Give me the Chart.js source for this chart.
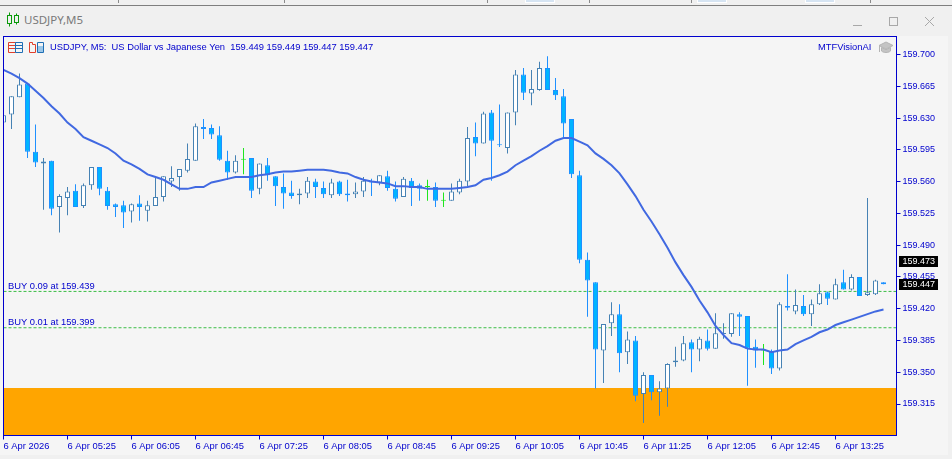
<!DOCTYPE html>
<html>
<head>
<meta charset="utf-8">
<title>USDJPY,M5</title>
<script src="https://cdn.jsdelivr.net/npm/chart.js@4/dist/chart.umd.min.js"></script>
<style>
  html, body { margin: 0; padding: 0; background: #f0f0f0; overflow: hidden; }
  #win { position: relative; width: 952px; height: 459px; font-family: "Noto Sans", sans-serif; }
  #topline { position: absolute; left: 0; top: 5px; width: 952px; height: 1px; background: #7f7f7f; }
  .tabmark { position: absolute; top: 0; width: 1px; height: 3px; background: #8a8a8a; }
  .tabbox { position: absolute; top: 0; width: 28px; height: 2px; background: #d6e4f2; border: 1px solid #fff; border-top: 0; }
  #caption { position: absolute; left: 24px; top: 11px; font-size: 11.5px; line-height: 18px; color: #7a7a7a; }
  #panel { position: absolute; left: 0; top: 36px; width: 948px; height: 419px; background: #f5f5f5; }
  canvas { position: absolute; left: 0; top: 0; }
  svg { position: absolute; }
</style>
</head>
<body>
<div id="win">
  <div id="topline"></div>
  <div class="tabmark" style="left:118px"></div>
  <div class="tabmark" style="left:284px"></div>
  <div class="tabmark" style="left:487px"></div>
  <div class="tabmark" style="left:589px"></div>
  <div class="tabmark" style="left:691px"></div>
  <div class="tabmark" style="left:870px"></div>
  <div class="tabbox" style="left:525px"></div>
  <div class="tabbox" style="left:697px"></div>
  <div class="tabbox" style="left:805px"></div>

  <svg style="left:6px;top:12px" width="14" height="15" fill="none" stroke="#0a9a0a">
    <path d="M3.5 0.5v14M10.5 1.5v11"/>
    <rect x="1.5" y="3.5" width="4" height="8" fill="#f0f0f0"/>
    <rect x="8.5" y="3.5" width="4" height="7" fill="#f0f0f0"/>
  </svg>
  <div id="caption">USDJPY,M5</div>
  <svg style="left:850px;top:14px" width="90" height="14" fill="none" stroke="#a8a8a8">
    <path d="M3 11.5h9"/>
    <rect x="39.5" y="3.5" width="8" height="8"/>
    <path d="M75 3l9 9M84 3l-9 9"/>
  </svg>

  <div id="panel"></div>
  <canvas id="chart" width="952" height="459"></canvas>

  <svg style="left:8px;top:42px" width="37" height="12" fill="none">
    <path d="M0.5 0.5h7v10h-7zM0.5 3.5h7M0.5 6.5h7" stroke="#e0402c"/>
    <path d="M7.5 0.5h7v10h-7zM7.5 3.5h7M7.5 6.5h7" stroke="#1f6fb5"/>
    <path d="M21.5 0.5h3v2h3v8h-6z" stroke="#e0402c"/>
    <path d="M29.5 0.5h6v10h-6z" stroke="#1f6fb5"/>
    <path d="M30 4h5v6h-5z" fill="#9cc7e8"/>
  </svg>
  <svg style="left:878px;top:41px" width="16" height="14" fill="#c4c4c4" stroke="#b4b4b4">
    <path d="M8 1l7 3.5-7 3.5-7-3.5z"/>
    <path d="M3.5 6.5v3.5c2 2 7 2 9 0v-3.5l-4.500 2.200z"/>
    <path d="M1.500 5v6" fill="none"/>
  </svg>
</div>

<script>
// USDJPY M5 candles, one every five minutes, oldest first
const opens = [
  159.625,159.634,159.653,159.668,159.593,159.580,159.583,159.532,159.542,159.550,
  159.533,159.556,159.576,159.550,159.535,159.534,159.527,159.536,159.528,159.533,
  159.543,159.560,159.565,159.572,159.583,159.620,159.619,159.611,159.583,159.570,
  159.584,159.586,159.552,159.578,159.566,159.554,159.548,159.545,159.547,159.560,
  159.553,159.545,159.560,159.547,159.546,159.549,159.561,159.559,159.566,159.552,
  159.543,159.561,159.556,159.554,159.554,159.539,159.539,159.548,159.560,159.609,
  159.602,159.636,159.601,159.597,159.636,159.678,159.657,159.661,159.685,159.661,
  159.654,159.629,159.567,159.474,159.449,159.374,159.404,159.414,159.372,159.385,
  159.326,159.347,159.328,159.332,159.361,159.363,159.383,159.375,159.385,159.376,
  159.392,159.392,159.414,159.412,159.378,159.374,159.373,159.354,159.423,159.417,
  159.423,159.414,159.425,159.438,159.430,159.449,159.441,159.455,159.435,159.436,
  159.449
];
const highs = [
  159.636,159.654,159.679,159.668,159.623,159.586,159.583,159.546,159.554,159.557,
  159.558,159.576,159.576,159.554,159.536,159.539,159.536,159.545,159.539,159.566,
  159.566,159.577,159.574,159.602,159.624,159.629,159.623,159.621,159.594,159.589,
  159.597,159.586,159.580,159.586,159.566,159.569,159.561,159.552,159.565,159.563,
  159.560,159.563,159.561,159.562,159.559,159.565,159.563,159.567,159.572,159.560,
  159.565,159.564,159.558,159.562,159.559,159.548,159.558,159.563,159.620,159.625,
  159.637,159.639,159.645,159.636,159.683,159.685,159.683,159.692,159.698,159.674,
  159.662,159.629,159.572,159.482,159.449,159.403,159.427,159.425,159.395,159.390,
  159.350,159.347,159.340,159.360,159.378,159.390,159.386,159.389,159.397,159.415,
  159.404,159.415,159.416,159.412,159.386,159.381,159.375,159.427,159.458,159.441,
  159.435,159.430,159.447,159.439,159.453,159.463,159.458,159.455,159.542,159.452,
  159.449
];
const lows = [
  159.619,159.618,159.653,159.586,159.576,159.529,159.523,159.504,159.523,159.532,
  159.531,159.551,159.545,159.529,159.521,159.509,159.515,159.517,159.516,159.533,
  159.538,159.554,159.550,159.570,159.583,159.607,159.607,159.583,159.562,159.569,
  159.568,159.542,159.546,159.561,159.533,159.530,159.541,159.535,159.542,159.542,
  159.542,159.542,159.544,159.538,159.542,159.543,159.544,159.556,159.550,159.538,
  159.543,159.533,159.539,159.539,159.532,159.532,159.539,159.546,159.555,159.588,
  159.602,159.561,159.598,159.591,159.622,159.650,159.644,159.660,159.661,159.650,
  159.608,159.564,159.470,159.411,159.332,159.338,159.390,159.350,159.359,159.318,
  159.294,159.319,159.302,159.312,159.356,159.362,159.350,159.362,159.374,159.376,
  159.387,159.389,159.390,159.335,159.355,159.358,159.348,159.352,159.418,159.414,
  159.412,159.401,159.424,159.424,159.430,159.441,159.440,159.434,159.434,159.435,
  159.447
];
const closes = [
  159.633,159.654,159.667,159.593,159.581,159.582,159.530,159.544,159.549,159.532,
  159.556,159.576,159.552,159.533,159.532,159.526,159.535,159.532,159.534,159.543,
  159.566,159.564,159.574,159.585,159.621,159.618,159.612,159.584,159.570,159.583,
  159.584,159.550,159.580,159.567,159.555,159.547,159.544,159.547,159.561,159.554,
  159.546,159.559,159.546,159.545,159.549,159.561,159.559,159.567,159.553,159.541,
  159.563,159.553,159.552,159.554,159.539,159.539,159.549,159.561,159.608,159.602,
  159.635,159.605,159.600,159.636,159.678,159.658,159.662,159.685,159.661,159.655,
  159.624,159.568,159.474,159.451,159.375,159.403,159.414,159.371,159.386,159.324,
  159.347,159.328,159.332,159.359,159.363,159.382,159.375,159.387,159.376,159.393,
  159.393,159.415,159.411,159.376,159.374,159.374,159.354,159.425,159.421,159.424,
  159.414,159.425,159.437,159.431,159.447,159.441,159.455,159.434,159.438,159.451,
  159.447
];
// moving average drawn over the candles
const movingAverage = [
  159.683,159.679,159.674,159.668,159.660,159.652,159.643,159.635,159.625,159.618,
  159.609,159.605,159.601,159.597,159.591,159.583,159.579,159.574,159.568,159.565,
  159.562,159.557,159.552,159.552,159.554,159.554,159.559,159.561,159.563,159.565,
  159.565,159.565,159.567,159.568,159.570,159.571,159.571,159.572,159.573,159.573,
  159.573,159.572,159.570,159.569,159.565,159.562,159.560,159.559,159.558,159.555,
  159.555,159.554,159.554,159.552,159.552,159.552,159.552,159.553,159.554,159.556,
  159.562,159.564,159.567,159.571,159.578,159.583,159.588,159.594,159.599,159.605,
  159.608,159.608,159.604,159.600,159.591,159.585,159.578,159.569,159.557,159.544,
  159.529,159.516,159.502,159.487,159.471,159.457,159.444,159.429,159.416,159.401,
  159.391,159.382,159.380,159.376,159.375,159.375,159.372,159.374,159.375,159.381,
  159.385,159.389,159.394,159.397,159.402,159.405,159.408,159.411,159.414,159.417,
  159.419
];
const timeLabels = ["6 Apr 2026","6 Apr 05:25","6 Apr 06:05","6 Apr 06:45","6 Apr 07:25","6 Apr 08:05","6 Apr 08:45",
  "6 Apr 09:25","6 Apr 10:05","6 Apr 10:45","6 Apr 11:25","6 Apr 12:05","6 Apr 12:45","6 Apr 13:25"];
const priceTicks = [159.700,159.665,159.630,159.595,159.560,159.525,159.490,159.455,159.420,159.385,159.350,159.315];
const buyPrices = [159.439,159.399];
const buyLabels = ["BUY 0.09 at 159.439","BUY 0.01 at 159.399"];
const priceTags = [159.473,159.447];
const zoneTop = 159.3325;

const BLUE = "#0000cd";
const FONT = "'Liberation Sans', sans-serif";
const xMax = 111.625;
const lastBar = opens.length - 1;

let wickColors = [], bodyFills = [], bodyEdges = [];
for (let i = 0; i <= lastBar; i++) {
  if (closes[i] > opens[i]) {
    wickColors.push("#4682b4"); bodyFills.push("#ffffff"); bodyEdges.push("#4682b4");
  } else if (closes[i] < opens[i]) {
    wickColors.push("#1e90ff"); bodyFills.push("#00b4ff"); bodyEdges.push("#1e90ff");
  } else {
    wickColors.push("#1ee61e"); bodyFills.push("#1ee61e"); bodyEdges.push("#1ee61e");
  }
}

const wicks = highs.map((h, i) => ({x: i, y: [lows[i], h]}));
const bodies = opens.map((o, i) => ({x: i, y: [Math.min(o, closes[i]), Math.max(o, closes[i])]}));
const maPoints = movingAverage.map((v, i) => ({x: i, y: v}));
const flatLine = v => [{x: 0, y: v}, {x: xMax, y: v}];

// texts and frame that Chart.js has no option for
const overlay = {
  id: "overlay",
  afterDraw(chart) {
    const ctx = chart.ctx, area = chart.chartArea, y = chart.scales.y;
    ctx.save();
    ctx.strokeStyle = BLUE;
    ctx.lineWidth = 1;
    ctx.strokeRect(area.left, area.top, area.right - area.left, area.bottom - area.top);

    ctx.fillStyle = BLUE;
    ctx.font = "9.35px " + FONT;
    ctx.textBaseline = "middle";
    ctx.textAlign = "left";
    ctx.fillText("USDJPY, M5:  US Dollar vs Japanese Yen  " + opens[lastBar].toFixed(3) + " " + highs[lastBar].toFixed(3) + " " + lows[lastBar].toFixed(3) + " " + closes[lastBar].toFixed(3), 50, 47.5);
    ctx.fillText("MTFVisionAI", 818, 47.5);
    buyPrices.forEach((p, i) => ctx.fillText(buyLabels[i], 8, y.getPixelForValue(p) - 5.5));

    ctx.font = "9px " + FONT;
    priceTags.forEach(p => {
      let py = Math.round(y.getPixelForValue(p));
      ctx.fillStyle = "#000000";
      ctx.fillRect(899, py - 5, 39, 11);
      ctx.fillStyle = "#ffffff";
      ctx.fillText(p.toFixed(3), 902.5, py + 0.5);
    });
    ctx.restore();
  }
};

new Chart(document.getElementById("chart"), {
  type: "bar",
  data: {
    datasets: [
      {type: "line", data: flatLine(zoneTop), borderWidth: 0, pointRadius: 0, fill: "start", backgroundColor: "#ffa500", order: 10},
      {type: "line", data: flatLine(buyPrices[0]), borderColor: "#3cbe46", borderWidth: 1, borderDash: [3, 2], pointRadius: 0, order: 9},
      {type: "line", data: flatLine(buyPrices[1]), borderColor: "#3cbe46", borderWidth: 1, borderDash: [3, 2], pointRadius: 0, order: 9},
      {data: wicks, backgroundColor: wickColors, barThickness: 1, grouped: false, inflateAmount: 0, order: 8},
      {data: bodies, backgroundColor: bodyFills, borderColor: bodyEdges, borderWidth: 1, borderSkipped: false, barThickness: 5, minBarLength: 1, grouped: false, inflateAmount: 0, order: 7},
      {type: "line", data: maPoints, borderColor: "#4169e1", borderWidth: 2, pointRadius: 0, tension: 0, order: 1}
    ]
  },
  options: {
    responsive: false,
    animation: false,
    events: [],
    layout: {padding: {left: 3.5, top: 36.5, right: 0, bottom: 0}},
    plugins: {legend: {display: false}, tooltip: {enabled: false}, title: {display: false}},
    scales: {
      x: {
        type: "linear",
        offset: false,
        min: 0,
        max: xMax,
        grid: {offset: false, drawOnChartArea: false, drawTicks: true, tickLength: 4, tickColor: BLUE},
        border: {display: true, color: BLUE},
        afterBuildTicks: axis => { axis.ticks = timeLabels.map((t, i) => ({value: i * 8})); },
        afterFit: axis => { axis.height = 23.5; },
        ticks: {
          color: BLUE,
          font: {family: FONT, size: 9.4},
          align: "start",
          autoSkip: false,
          maxRotation: 0,
          padding: 1,
          callback: value => timeLabels[value / 8]
        }
      },
      y: {
        position: "right",
        min: 159.7 - 381 / 907.8,
        max: 159.7 + 18 / 907.8,
        grid: {drawOnChartArea: false, drawTicks: true, tickLength: 4, tickColor: BLUE},
        border: {display: true, color: BLUE},
        afterBuildTicks: axis => { axis.ticks = priceTicks.map(v => ({value: v})); },
        afterFit: axis => { axis.width = 55.5; },
        ticks: {
          color: BLUE,
          font: {family: FONT, size: 9},
          autoSkip: false,
          padding: 2,
          callback: value => value.toFixed(3)
        }
      }
    }
  },
  plugins: [overlay]
});
</script>
</body>
</html>
